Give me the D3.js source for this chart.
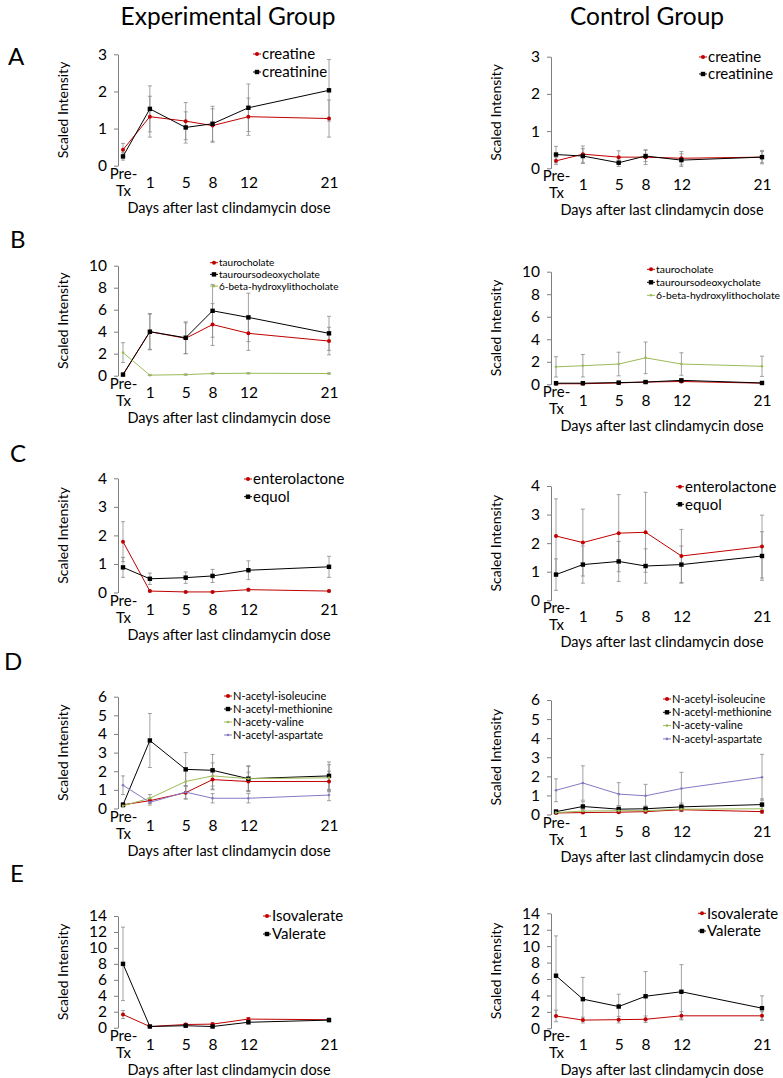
<!DOCTYPE html>
<html>
<head>
<meta charset="utf-8">
<script src="https://cdn.jsdelivr.net/npm/d3@7"></script>
<style>
  body { margin: 0; background: #fff; }
  text { font-family: Lato, "Open Sans", sans-serif; }
</style>
</head>
<body>
<svg></svg>
<script>
const width = 783;
const height = 1078;

// x categories; Pre-Tx is placed a bit before day 1, the rest by day number
const dayLabels = ["Pre-Tx", "1", "5", "8", "12", "21"];
const dayValues = [-2, 1, 5, 8, 12, 21];

// A - creatine / creatinine
const expCreatine = [0.43, 1.32, 1.20, 1.08, 1.32, 1.27];
const expCreatineErr = [0.17, 0.55, 0.50, 0.45, 0.50, 0.50];
const expCreatinine = [0.25, 1.53, 1.03, 1.13, 1.56, 2.03];
const expCreatinineErr = [0.10, 0.62, 0.42, 0.47, 0.64, 0.83];
const ctlCreatine = [0.20, 0.38, 0.30, 0.30, 0.27, 0.30];
const ctlCreatineErr = [0.10, 0.22, 0.17, 0.20, 0.18, 0.18];
const ctlCreatinine = [0.37, 0.33, 0.15, 0.33, 0.22, 0.30];
const ctlCreatinineErr = [0.22, 0.20, 0.10, 0.15, 0.17, 0.15];

// B - bile acids
const expTauro = [0.10, 4.00, 3.40, 4.65, 3.85, 3.15];
const expTauroErr = [0.05, 1.60, 1.40, 1.90, 1.55, 1.25];
const expTudca = [0.10, 4.00, 3.45, 5.90, 5.30, 3.85];
const expTudcaErr = [0.05, 1.65, 1.45, 2.40, 2.20, 1.55];
const expSixBeta = [2.10, 0.05, 0.10, 0.20, 0.22, 0.20];
const expSixBetaErr = [0.90, 0.02, 0.05, 0.05, 0.05, 0.05];
const ctlTauro = [0.05, 0.05, 0.12, 0.20, 0.25, 0.10];
const ctlTauroErr = [0.03, 0.03, 0.05, 0.08, 0.10, 0.05];
const ctlTudca = [0.10, 0.10, 0.15, 0.20, 0.35, 0.12];
const ctlTudcaErr = [0.05, 0.05, 0.06, 0.08, 0.12, 0.05];
const ctlSixBeta = [1.55, 1.65, 1.80, 2.35, 1.80, 1.60];
const ctlSixBetaErr = [0.90, 1.00, 1.05, 1.40, 1.00, 0.90];

// C - enterolactone / equol
const expEntero = [1.78, 0.05, 0.02, 0.02, 0.10, 0.05];
const expEnteroErr = [0.70, 0.03, 0.02, 0.02, 0.05, 0.03];
const expEquol = [0.88, 0.48, 0.52, 0.58, 0.78, 0.90];
const expEquolErr = [0.35, 0.20, 0.20, 0.23, 0.33, 0.37];
const ctlEntero = [2.25, 2.02, 2.35, 2.38, 1.55, 1.88];
const ctlEnteroErr = [1.30, 1.17, 1.35, 1.40, 0.93, 1.10];
const ctlEquol = [0.90, 1.25, 1.36, 1.20, 1.25, 1.55];
const ctlEquolErr = [0.55, 0.65, 0.70, 0.60, 0.65, 0.85];

// D - N-acetyl amino acids
const expIsoleucine = [0.20, 0.42, 0.85, 1.55, 1.45, 1.45];
const expIsoleucineErr = [0.10, 0.15, 0.35, 0.55, 0.50, 0.55];
const expMethionine = [0.20, 3.65, 2.10, 2.05, 1.60, 1.75];
const expMethionineErr = [0.10, 1.45, 0.90, 0.85, 0.70, 0.75];
const expValine = [0.15, 0.55, 1.45, 1.75, 1.60, 1.65];
const expValineErr = [0.08, 0.20, 0.60, 0.70, 0.65, 0.70];
const expAspartate = [1.25, 0.33, 0.88, 0.55, 0.55, 0.72];
const expAspartateErr = [0.50, 0.15, 0.35, 0.25, 0.25, 0.30];
const ctlIsoleucine = [0.08, 0.10, 0.12, 0.15, 0.25, 0.15];
const ctlIsoleucineErr = [0.05, 0.05, 0.06, 0.08, 0.10, 0.08];
const ctlMethionine = [0.15, 0.42, 0.28, 0.30, 0.40, 0.52];
const ctlMethionineErr = [0.10, 0.25, 0.15, 0.15, 0.20, 0.30];
const ctlValine = [0.10, 0.18, 0.20, 0.20, 0.28, 0.30];
const ctlValineErr = [0.05, 0.08, 0.08, 0.08, 0.12, 0.12];
const ctlAspartate = [1.27, 1.65, 1.07, 0.98, 1.36, 1.95];
const ctlAspartateErr = [0.60, 0.90, 0.60, 0.60, 0.85, 1.20];

// E - isovalerate / valerate
const expIsovalerate = [1.65, 0.15, 0.40, 0.45, 1.08, 1.00];
const expIsovalerateErr = [0.50, 0.05, 0.15, 0.15, 0.20, 0.20];
const expValerate = [8.00, 0.15, 0.25, 0.15, 0.68, 0.95];
const expValerateErr = [4.60, 0.05, 0.10, 0.08, 0.20, 0.20];
const ctlIsovalerate = [1.50, 1.00, 1.05, 1.10, 1.52, 1.52];
const ctlIsovalerateErr = [0.70, 0.35, 0.40, 0.40, 0.50, 0.50];
const ctlValerate = [6.40, 3.55, 2.65, 3.90, 4.45, 2.45];
const ctlValerateErr = [4.85, 2.65, 1.50, 3.00, 3.30, 1.50];

const RED = "#c00000", BLACK = "#000000", GREEN = "#9bbb59", PURPLE = "#8878c3";
const ERR = "#8a8a8a";
const FONT = "Lato, 'Open Sans', sans-serif";

const svg = d3.select("svg")
    .attr("width", width)
    .attr("height", height)
    .style("background", "#fff");

svg.append("text").attr("x", 228).attr("y", 25).attr("text-anchor", "middle")
    .attr("font-size", 24.5).text("Experimental Group");
svg.append("text").attr("x", 647).attr("y", 25).attr("text-anchor", "middle")
    .attr("font-size", 24.5).text("Control Group");

const letters = [["A", 8, 65], ["B", 10, 248], ["C", 10, 462], ["D", 4, 670], ["E", 10, 882]];
letters.forEach(([t, x, y]) => {
    svg.append("text").attr("x", x).attr("y", y).attr("font-size", 24).text(t);
});

const ser = (name, values, errors, color, shape) => ({ name, values, errors, color, shape });

const panels = [
    { axisX: 118, top: 54.3, zero: 165.7, yMax: 3, step: 1,
      legend: { x: 262, y: 54, gap: 18, size: 15 },
      series: [ser("creatine", expCreatine, expCreatineErr, RED, "dot"),
               ser("creatinine", expCreatinine, expCreatinineErr, BLACK, "square")] },
    { axisX: 551, top: 56.7, zero: 168.3, yMax: 3, step: 1,
      legend: { x: 708, y: 57, gap: 17, size: 15 },
      series: [ser("creatine", ctlCreatine, ctlCreatineErr, RED, "dot"),
               ser("creatinine", ctlCreatinine, ctlCreatinineErr, BLACK, "square")] },
    { axisX: 118, top: 265.7, zero: 375.7, yMax: 10, step: 2,
      legend: { x: 219, y: 262.7, gap: 11.7, size: 10 },
      series: [ser("taurocholate", expTauro, expTauroErr, RED, "dot"),
               ser("tauroursodeoxycholate", expTudca, expTudcaErr, BLACK, "square"),
               ser("6-beta-hydroxylithocholate", expSixBeta, expSixBetaErr, GREEN, "tick")] },
    { axisX: 551, top: 271.7, zero: 384.3, yMax: 10, step: 2,
      legend: { x: 656, y: 269.3, gap: 13, size: 10.4 },
      series: [ser("taurocholate", ctlTauro, ctlTauroErr, RED, "dot"),
               ser("tauroursodeoxycholate", ctlTudca, ctlTudcaErr, BLACK, "square"),
               ser("6-beta-hydroxylithocholate", ctlSixBeta, ctlSixBetaErr, GREEN, "tick")] },
    { axisX: 118, top: 478.3, zero: 592.5, yMax: 4, step: 1,
      legend: { x: 253, y: 479, gap: 17.7, size: 15 },
      series: [ser("enterolactone", expEntero, expEnteroErr, RED, "dot"),
               ser("equol", expEquol, expEquolErr, BLACK, "square")] },
    { axisX: 551, top: 486, zero: 600.3, yMax: 4, step: 1,
      legend: { x: 685, y: 486.7, gap: 17.6, size: 15 },
      series: [ser("enterolactone", ctlEntero, ctlEnteroErr, RED, "dot"),
               ser("equol", ctlEquol, ctlEquolErr, BLACK, "square")] },
    { axisX: 118, top: 696.7, zero: 808.5, yMax: 6, step: 1,
      legend: { x: 233, y: 696, gap: 13, size: 11 },
      series: [ser("N-acetyl-isoleucine", expIsoleucine, expIsoleucineErr, RED, "dot"),
               ser("N-acetyl-methionine", expMethionine, expMethionineErr, BLACK, "square"),
               ser("N-acety-valine", expValine, expValineErr, GREEN, "tick"),
               ser("N-acetyl-aspartate", expAspartate, expAspartateErr, PURPLE, "tick")] },
    { axisX: 551, top: 700, zero: 814.5, yMax: 6, step: 1,
      legend: { x: 672, y: 699, gap: 13.3, size: 11 },
      series: [ser("N-acetyl-isoleucine", ctlIsoleucine, ctlIsoleucineErr, RED, "dot"),
               ser("N-acetyl-methionine", ctlMethionine, ctlMethionineErr, BLACK, "square"),
               ser("N-acety-valine", ctlValine, ctlValineErr, GREEN, "tick"),
               ser("N-acetyl-aspartate", ctlAspartate, ctlAspartateErr, PURPLE, "tick")] },
    { axisX: 118, top: 916, zero: 1027.7, yMax: 14, step: 2,
      legend: { x: 272, y: 916, gap: 18, size: 15 },
      series: [ser("Isovalerate", expIsovalerate, expIsovalerateErr, RED, "dot"),
               ser("Valerate", expValerate, expValerateErr, BLACK, "square")] },
    { axisX: 551, top: 913.3, zero: 1028.3, yMax: 14, step: 2,
      legend: { x: 707, y: 913.3, gap: 17.7, size: 15 },
      series: [ser("Isovalerate", ctlIsovalerate, ctlIsovalerateErr, RED, "dot"),
               ser("Valerate", ctlValerate, ctlValerateErr, BLACK, "square")] }
];

function drawMarker(g, shape, color, cx, cy) {
    if (shape === "square") {
        g.append("rect").attr("x", cx - 2.2).attr("y", cy - 2.2).attr("width", 4.4).attr("height", 4.4).attr("fill", color);
    } else if (shape === "dot") {
        g.append("circle").attr("cx", cx).attr("cy", cy).attr("r", 2).attr("fill", color);
    } else {
        g.append("circle").attr("cx", cx).attr("cy", cy).attr("r", 1.3).attr("fill", color);
    }
}

function drawPanel(p) {
    const g = svg.append("g");
    const x = d3.scaleLinear().domain([-2, 21]).range([p.axisX + 5, p.axisX + 211]);
    const y = d3.scaleLinear().domain([0, p.yMax]).range([p.zero, p.top]);

    const yAxis = g.append("g")
        .attr("transform", `translate(${p.axisX},0)`)
        .call(d3.axisLeft(y).tickValues(d3.range(0, p.yMax + 0.001, p.step))
            .tickFormat(d3.format("d"))
            .tickSize(4).tickSizeOuter(0).tickPadding(7));
    yAxis.select(".domain").attr("stroke", "#7f7f7f");
    yAxis.selectAll(".tick line").attr("stroke", "#7f7f7f");
    yAxis.selectAll("text").attr("font-size", 15.5).attr("font-family", FONT).attr("fill", "#000");

    const xAxis = g.append("g")
        .attr("transform", `translate(0,${p.zero})`)
        .call(d3.axisBottom(x).tickValues(dayValues)
            .tickFormat(d => dayLabels[dayValues.indexOf(d)]).tickSize(0));
    xAxis.select(".domain").remove();
    xAxis.selectAll("text").attr("font-size", 15.5).attr("font-family", FONT)
        .attr("fill", "#000").attr("dy", null).attr("y", 22);
    xAxis.selectAll(".tick").filter(d => d === -2).select("text")
        .text(null)
        .attr("font-size", 15)
        .call(t => {
            t.append("tspan").attr("x", 0).attr("y", 13).text("Pre-");
            t.append("tspan").attr("x", 0).attr("y", 30).text("Tx");
        });

    g.append("text")
        .attr("transform", `translate(${p.axisX - 50},${(p.top + p.zero) / 2}) rotate(-90)`)
        .attr("text-anchor", "middle").attr("font-size", 14).text("Scaled Intensity");
    g.append("text")
        .attr("x", p.axisX + 111).attr("y", p.zero + 47)
        .attr("text-anchor", "middle").attr("font-size", 14.5).text("Days after last clindamycin dose");

    // error bars
    p.series.forEach(s => {
        s.values.forEach((v, i) => {
            const cx = x(dayValues[i]);
            const lo = y(Math.max(0, v - s.errors[i]));
            const hi = y(v + s.errors[i]);
            g.append("line").attr("x1", cx).attr("x2", cx).attr("y1", lo).attr("y2", hi)
                .attr("stroke", ERR).attr("stroke-width", 0.8);
            [lo, hi].forEach(yy => g.append("line").attr("x1", cx - 2).attr("x2", cx + 2)
                .attr("y1", yy).attr("y2", yy).attr("stroke", ERR).attr("stroke-width", 0.8));
        });
    });

    const line = d3.line().x((d, i) => x(dayValues[i])).y(d => y(d));
    p.series.forEach(s => {
        g.append("path").datum(s.values).attr("d", line)
            .attr("fill", "none").attr("stroke", s.color).attr("stroke-width", 1);
        s.values.forEach((v, i) => drawMarker(g, s.shape, s.color, x(dayValues[i]), y(v)));
    });

    // legend
    p.series.forEach((s, i) => {
        const ly = p.legend.y + i * p.legend.gap;
        g.append("line").attr("x1", p.legend.x - 9).attr("x2", p.legend.x - 1)
            .attr("y1", ly).attr("y2", ly).attr("stroke", s.color).attr("stroke-width", 1);
        drawMarker(g, s.shape, s.color, p.legend.x - 5, ly);
        g.append("text").attr("x", p.legend.x).attr("y", ly).attr("dy", "0.35em")
            .attr("font-size", p.legend.size).text(s.name);
    });
}

panels.forEach(drawPanel);
</script>
</body>
</html>
